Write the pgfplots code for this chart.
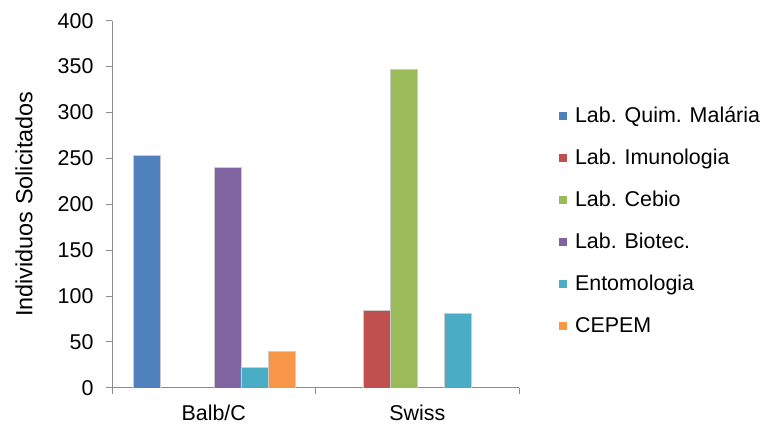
\documentclass[border=0pt]{standalone}
\usepackage{pgfplots}
\pgfplotsset{compat=1.18}
\usepackage{fontspec}
\setmainfont{Liberation Sans}

\definecolor{cQuim}{HTML}{4F81BD}
\definecolor{cImuno}{HTML}{C0504D}
\definecolor{cCebio}{HTML}{9BBB59}
\definecolor{cBiotec}{HTML}{8064A2}
\definecolor{cEnto}{HTML}{4BACC6}
\definecolor{cCepem}{HTML}{F79646}
\definecolor{axgray}{HTML}{8C8C8C}

\begin{document}
\begin{tikzpicture}
\begin{axis}[
  scale only axis, width=407bp, height=367bp,
  xmin=-0.5, xmax=1.5, ymin=0, ymax=400,
  ytick={0,50,...,400},
  xtick={-0.5,0.5,1.5}, xticklabels={},
  extra x ticks={0,1}, extra x tick labels={Balb/C,Swiss},
  extra x tick style={major tick length=0pt},
  axis lines*=left,
  axis line style={axgray, line width=0.8bp},
  tick style={axgray, line width=0.8bp},
  tick align=outside, major tick length=6bp,
  /pgf/number format/assume math mode=true,
  ticklabel style={font=\fontsize{21.5}{25}\selectfont},
  xticklabel style={yshift=-14bp},
  yticklabel style={xshift=-9bp},
  ylabel={Individuos Solicitados},
  ylabel style={font=\fontsize{23.5}{27}\selectfont, at={(axis description cs:-0.238,0.5)}, anchor=north, inner sep=0pt},
  ybar=0pt, bar width=27bp,
  every axis plot/.append style={draw=white!60!gray, line width=0.3bp},
  legend style={draw=none, fill=none, at={(axis description cs:1.098,0.765)}, anchor=north west,
    font=\fontsize{21.5}{25}\selectfont, inner sep=0pt, row sep=22bp,
    nodes={inner sep=0pt, text height=15bp, text depth=5bp}},
  legend cell align=left,
  legend image code/.code={\fill[#1, draw=none] (0bp,-3bp) rectangle (8bp,5bp);},
  legend style={/tikz/every odd column/.append style={column sep=8bp}},
]
\addplot[fill=cQuim]   coordinates {(0,253)};
\addplot[fill=cImuno]  coordinates {(1,85)};
\addplot[fill=cCebio]  coordinates {(1,347)};
\addplot[fill=cBiotec] coordinates {(0,240)};
\addplot[fill=cEnto]   coordinates {(0,22) (1,81)};
\addplot[fill=cCepem]  coordinates {(0,40)};
\legend{Lab. Quim. Malária, Lab. Imunologia, Lab. Cebio, Lab. Biotec., Entomologia, CEPEM}
\end{axis}
\pgfresetboundingbox
\path (-112bp,-40.3bp) rectangle (653bp,387.7bp);
\end{tikzpicture}
\end{document}
